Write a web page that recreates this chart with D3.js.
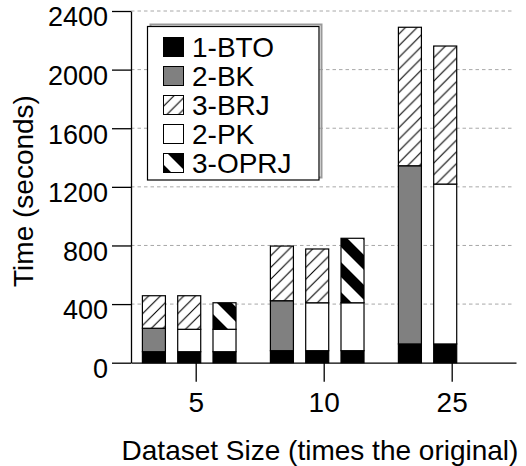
<!DOCTYPE html>
<html><head><meta charset="utf-8">
<script src="https://cdn.jsdelivr.net/npm/d3@7"></script>
<style>
html,body{margin:0;padding:0;background:#fff;}
text{font-family:"Liberation Sans",Arial,Helvetica,sans-serif;fill:#000;}
</style></head>
<body>
<svg id="chart" width="526" height="466"></svg>
<script>
// ---- data ----
const groups = ["5", "10", "25"];
const barGroup = [0, 0, 0, 1, 1, 1, 2, 2];
const barSlot  = [0, 1, 2, 0, 1, 2, 0, 1];
const bto  = [75, 75, 75, 82, 82, 82, 128, 128];
const bk   = [160, 0, 0, 341, 0, 0, 1216, 0];
const pk   = [0, 153, 153, 0, 327, 327, 0, 1091];
const brj  = [222, 229, 0, 373, 367, 0, 945, 942];
const oprj = [0, 0, 181, 0, 0, 440, 0, 0];
const yTicks = [0, 400, 800, 1200, 1600, 2000, 2400];
const seriesNames = ["1-BTO", "2-BK", "3-BRJ", "2-PK", "3-OPRJ"];

// ---- layout ----
const FS = 28, TFS = 27;
const svg = d3.select("#chart");
const x0 = 131, x1 = 516, yBot = 362.7, yTop = 11;
const unit = 35.3;               // px per bar slot
const groupStep = 3.626;         // in slot units
const barW = 0.652;              // in slot units
const x = d3.scaleLinear().domain([-1.833, -1.833 + (x1 - x0) / unit]).range([x0, x1]);
const y = d3.scaleLinear().domain([0, 2400]).range([yBot, yTop]);

// patterns
const defs = svg.append("defs");
const P1 = 11.7;
const pBRJ = defs.append("pattern").attr("id", "brj").attr("patternUnits", "userSpaceOnUse")
  .attr("width", P1).attr("height", P1);
pBRJ.append("rect").attr("width", P1).attr("height", P1).attr("fill", "#fff");
pBRJ.append("path").attr("d", `M0,${P1} L${P1},0 M-2,2 L2,-2 M${P1-2},${P1+2} L${P1+2},${P1-2}`)
  .attr("stroke", "#000").attr("stroke-width", 1.1);
const P2 = 30;
const pOP = defs.append("pattern").attr("id", "oprj").attr("patternUnits", "userSpaceOnUse")
  .attr("width", P2).attr("height", P2).attr("x", 4).attr("y", 0);
pOP.append("rect").attr("width", P2).attr("height", P2).attr("fill", "#fff");
pOP.append("path").attr("d",
  `M0,0 L${P2/2},0 L${P2},${P2/2} L${P2},${P2} Z M0,${P2/2} L${P2/2},${P2} L0,${P2} Z`)
  .attr("fill", "#000");

const fills = {
  "1-BTO": "#000",
  "2-BK": "#808080",
  "3-BRJ": "url(#brj)",
  "2-PK": "#fff",
  "3-OPRJ": "url(#oprj)"
};

// gridlines
svg.append("g").selectAll("line").data(yTicks.filter(d => d > 0)).join("line")
  .attr("x1", x0).attr("x2", 513).attr("y1", d => y(d)).attr("y2", d => y(d))
  .attr("stroke", "#a8a8a8").attr("stroke-width", 1).attr("stroke-dasharray", "3.5,3");

// stacked bars
const rows = bto.map((v, i) => ({
  i, "1-BTO": v, "2-BK": bk[i], "2-PK": pk[i], "3-BRJ": brj[i], "3-OPRJ": oprj[i]
}));
const stackKeys = ["1-BTO", "2-BK", "2-PK", "3-BRJ", "3-OPRJ"];
const stacked = d3.stack().keys(stackKeys)(rows);
const barCenter = i => barGroup[i] * groupStep - 0.184 + (barSlot[i] - 1);

stacked.forEach(layer => {
  svg.append("g").selectAll("rect").data(layer.filter(d => d[1] - d[0] > 0)).join("rect")
    .attr("x", d => x(barCenter(d.data.i) - barW / 2))
    .attr("width", d => x(barW) - x(0))
    .attr("y", d => y(d[1]))
    .attr("height", d => y(d[0]) - y(d[1]))
    .attr("fill", fills[layer.key])
    .attr("stroke", "#000").attr("stroke-width", 1.2);
});

// axes
const yAxis = d3.axisLeft(y).tickValues(yTicks).tickFormat(d3.format("d"))
  .tickSize(19).tickSizeOuter(0).tickPadding(4);
const gy = svg.append("g").attr("transform", `translate(${x0},0)`).call(yAxis);
const xAxis = d3.axisBottom(x).tickValues(groups.map((g, k) => k * groupStep))
  .tickFormat((d, k) => groups[k]).tickSize(19).tickSizeOuter(0).tickPadding(10);
const gx = svg.append("g").attr("transform", `translate(0,${yBot})`).call(xAxis);
[gx, gy].forEach(g => {
  g.selectAll("path.domain").attr("stroke", "#000").attr("stroke-width", 1.3);
  g.selectAll(".tick line").attr("stroke", "#000").attr("stroke-width", 1.3);
  g.selectAll(".tick text")
    .attr("font-family", '"Liberation Sans",Arial,sans-serif').attr("fill", "#000");
});
gx.selectAll(".tick text").attr("font-size", FS);
gy.selectAll(".tick text").attr("font-size", TFS).attr("dy", "14.8px");

// axis titles
svg.append("text").attr("transform", "translate(33,191) rotate(-90)")
  .attr("text-anchor", "middle").attr("font-size", FS).text("Time (seconds)");
svg.append("text").attr("x", 320).attr("y", 460)
  .attr("text-anchor", "middle").attr("font-size", FS).text("Dataset Size (times the original)");

// legend
const lg = svg.append("g");
lg.append("rect").attr("x", 150.5).attr("y", 24.5).attr("width", 171).attr("height", 153)
  .attr("fill", "none").attr("stroke", "#999").attr("stroke-width", 2);
lg.append("rect").attr("x", 147.5).attr("y", 26.5).attr("width", 171.5).attr("height", 153.5)
  .attr("fill", "#fff").attr("stroke", "#000").attr("stroke-width", 1.2);
const item = lg.selectAll("g.item").data(seriesNames).join("g")
  .attr("transform", (d, k) => `translate(163,${37 + k * 29})`);
item.append("rect").attr("x", 0.5).attr("y", 0.5).attr("width", 20).attr("height", 19)
  .attr("fill", d => fills[d]).attr("stroke", "#000").attr("stroke-width", 1);
item.append("text").attr("x", 29).attr("y", 19.5).attr("font-size", FS).text(d => d);
</script>
</body></html>
